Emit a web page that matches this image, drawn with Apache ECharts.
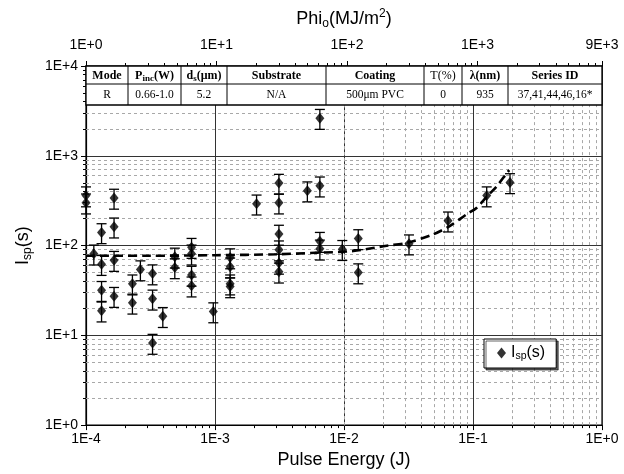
<!DOCTYPE html>
<html><head><meta charset="utf-8">
<script src="https://cdn.jsdelivr.net/npm/echarts@6/dist/echarts.min.js"></script>
<style>html,body{margin:0;padding:0;background:#fff}#c{width:624px;height:474px}</style>
</head><body><div id="c"></div>
<script>
// ---------------- data ----------------
const pulseEnergy = [1.0e-4,1.0e-4,1.15e-4,1.32e-4,1.32e-4,1.32e-4,1.32e-4,1.65e-4,1.65e-4,1.65e-4,1.65e-4,
  2.29e-4,2.29e-4,2.64e-4,3.28e-4,3.28e-4,3.28e-4,3.94e-4,4.88e-4,4.88e-4,6.58e-4,6.58e-4,6.58e-4,6.58e-4,
  9.7e-4,1.31e-3,1.31e-3,1.31e-3,1.31e-3,2.1e-3,3.13e-3,3.13e-3,3.13e-3,3.13e-3,3.13e-3,3.13e-3,
  5.2e-3,6.5e-3,6.5e-3,6.5e-3,6.5e-3,9.7e-3,1.29e-2,1.29e-2,3.19e-2,6.4e-2,0.1277,0.1936];
const isp = [360,300,81,140,62,31.8,18.8,339,162,68.8,27.3,
  37.6,23,54,48.7,25.5,8.2,16.3,74.8,57,96,81,47,35.7,
  18.4,73.5,58,37.6,35,292,497,300,134.6,90,64,51,
  409,2625,464,112,92,91,120,50,105,189,360,505];
const ispErrorFraction = 0.25;   // error bars: +/-25 %
const fitEnergy = [1e-4,3e-4,1e-3,3e-3,6e-3,0.0118,0.0214,0.0306,0.049,0.0664,0.0893,0.107,0.1277,0.1527,0.1825,0.191];
const fitIsp    = [77,77,78,80,83,87,99.5,107,133,166,223,264,349,457,639,693];
const energyTickLabels = ['1E-4','1E-3','1E-2','1E-1','1E+0'];
const ispTickLabels    = ['1E+0','1E+1','1E+2','1E+3','1E+4'];
const phiTicks         = [1,10,100,1000,9000];
const phiTickLabels    = ['1E+0','1E+1','1E+2','1E+3','9E+3'];
const tableHeader = ['Mode','{b|P}{bs|inc}{b|(W)}','{b|d}{bs|s}{b|(μm)}','Substrate','Coating','T(%)','λ(nm)','Series ID'];
const tableRow    = ['R','0.66-1.0','5.2','N/A','500μm PVC','0','935','37,41,44,46,16*'];

// ---------------- helpers ----------------
function minorValues(k0, k1, maxV) {
  const out = [];
  for (let k = k0; k < k1; k++) for (let m = 2; m <= 9; m++) {
    const v = m * Math.pow(10, k);
    if (maxV === undefined || v < maxV * 0.999) out.push(v);
  }
  return out;
}
const minorXv = minorValues(-4, 0), minorYv = minorValues(0, 4), minorPhiV = minorValues(0, 4, 9000);
const minorX = minorXv.map(v => ({xAxis: v}));
const minorY = minorYv.map(v => ({yAxis: v}));

const pts = pulseEnergy.map((e, i) => [e, isp[i]]);
const bars = pulseEnergy.map((e, i) => [e, isp[i] * (1 - ispErrorFraction), isp[i] * (1 + ispErrorFraction)]);
const fit = fitEnergy.map((e, i) => [e, fitIsp[i]]);

const sans = 'Liberation Sans, Arial, Helvetica, sans-serif';
const serif = 'Liberation Serif, Times New Roman, serif';

// table graphics
const colX = [86,128,181,227,326,424,462,508,602];
const rowY = [66,84,105];
const graphic = [];
graphic.push({type:'rect', z:100, shape:{x:colX[0], y:rowY[0], width:colX[8]-colX[0], height:rowY[2]-rowY[0]},
  style:{fill:'#fff', stroke:'#000', lineWidth:1.3}});
graphic.push({type:'line', z:101, shape:{x1:colX[0], y1:rowY[1], x2:colX[8], y2:rowY[1]}, style:{stroke:'#000', lineWidth:1}});
for (let i = 1; i < colX.length - 1; i++) {
  graphic.push({type:'line', z:101, shape:{x1:colX[i], y1:rowY[0], x2:colX[i], y2:rowY[2]}, style:{stroke:'#000', lineWidth:1}});
}
const richT = {
  b:{fontFamily:serif, fontWeight:'bold', fontSize:12, lineHeight:16, verticalAlign:'middle'},
  bs:{fontFamily:serif, fontWeight:'bold', fontSize:9, lineHeight:8, verticalAlign:'bottom'}
};
for (let i = 0; i < tableHeader.length; i++) {
  const cx = (colX[i] + colX[i+1]) / 2;
  graphic.push({type:'text', z:102, style:{text:tableHeader[i], x:cx, y:(rowY[0]+rowY[1])/2 + 0.5,
    textAlign:'center', textVerticalAlign:'middle', align:'center', verticalAlign:'middle',
    fontFamily:serif, fontWeight: i === 5 ? 'normal' : 'bold', fontSize:12, fill:'#000', rich:richT}});
  graphic.push({type:'text', z:102, style:{text:tableRow[i], x:cx, y:(rowY[1]+rowY[2])/2,
    textAlign:'center', textVerticalAlign:'middle', align:'center', verticalAlign:'middle',
    fontFamily:serif, fontSize:11.5, fill:'#000'}});
}

function expLabel(labels, offset) {
  return function (v) {
    const e = Math.round(Math.log10(v));
    return labels[e + offset] !== undefined ? labels[e + offset] : '';
  };
}
function minorAxis(base, vals) {
  return Object.assign({
    axisLine: {show: false}, axisLabel: {show: false}, splitLine: {show: false},
    axisTick: {show: true, inside: false, length: 3, customValues: vals, lineStyle: {color: '#000'}},
    silent: true
  }, base);
}

const option = {
  animation: false,
  backgroundColor: '#fff',
  grid: {left: 86, right: 22, top: 66, bottom: 42, show: true, borderColor: '#000', borderWidth: 1.2},
  xAxis: [{
    type: 'log', logBase: 10, min: 1e-4, max: 1, position: 'bottom',
    axisLine: {show: true, lineStyle: {color: '#000', width: 1.2}},
    axisTick: {show: true, inside: false, length: 5, lineStyle: {color: '#000'}},
    axisLabel: {formatter: expLabel(energyTickLabels, 4), fontFamily: sans, fontSize: 14, color: '#000', margin: 7},
    splitLine: {show: true, lineStyle: {color: '#333', width: 1}},
    name: 'Pulse Energy (J)', nameLocation: 'middle', nameGap: 17,
    nameTextStyle: {fontFamily: sans, fontSize: 18, color: '#000'}
  }, {
    type: 'log', logBase: 10, min: 1, max: 9000, position: 'top',
    axisLine: {show: true, lineStyle: {color: '#000', width: 1.2}},
    axisTick: {show: true, inside: false, length: 5, lineStyle: {color: '#000'}},
    axisLabel: {
      formatter: function (v) {
        for (let i = 0; i < phiTicks.length; i++) if (Math.abs(Math.log10(v) - Math.log10(phiTicks[i])) < 0.01) return phiTickLabels[i];
        return '';
      },
      fontFamily: sans, fontSize: 14, color: '#000', margin: 14, showMaxLabel: true
    },
    splitLine: {show: false},
    name: 'Phi{s|o}(MJ/m{p|2})', nameLocation: 'middle', nameGap: 36,
    nameTextStyle: {fontFamily: sans, fontSize: 18, color: '#000', lineHeight: 22,
      rich: {
        s: {fontFamily: sans, fontSize: 12, lineHeight: 12, verticalAlign: 'bottom', color: '#000'},
        p: {fontFamily: sans, fontSize: 12, lineHeight: 12, verticalAlign: 'top', color: '#000'}
      }}
  },
  minorAxis({type: 'log', logBase: 10, min: 1e-4, max: 1, position: 'bottom'}, minorXv),
  minorAxis({type: 'log', logBase: 10, min: 1, max: 9000, position: 'top'}, minorPhiV)
  ],
  yAxis: [{
    type: 'log', logBase: 10, min: 1, max: 1e4, position: 'left',
    axisLine: {show: true, lineStyle: {color: '#000', width: 1.2}},
    axisTick: {show: true, inside: false, length: 5, lineStyle: {color: '#000'}},
    axisLabel: {formatter: expLabel(ispTickLabels, 0), fontFamily: sans, fontSize: 14, color: '#000', margin: 8},
    splitLine: {show: true, lineStyle: {color: '#333', width: 1}},
    name: 'I{s|sp}(s)', nameLocation: 'middle', nameGap: 52,
    nameTextStyle: {fontFamily: sans, fontSize: 18, color: '#000', lineHeight: 22,
      rich: {s: {fontFamily: sans, fontSize: 12, lineHeight: 12, verticalAlign: 'bottom', color: '#000'}}}
  },
  minorAxis({type: 'log', logBase: 10, min: 1, max: 1e4, position: 'left'}, minorYv)
  ],
  legend: {
    show: true, left: 484, top: 339, orient: 'vertical',
    backgroundColor: '#fff', borderColor: '#000', borderWidth: 1, borderRadius: 0,
    padding: [6, 11, 6, 13],
    itemWidth: 9, itemHeight: 11,
    shadowColor: 'rgba(0,0,0,0.6)', shadowBlur: 0, shadowOffsetX: 2, shadowOffsetY: 2,
    data: [{name: 'Isp', icon: 'diamond'}],
    formatter: function () { return '{a|I}{s|sp}{a|(s)}'; },
    textStyle: {fontFamily: sans, fontSize: 16, color: '#000',
      rich: {a: {fontFamily: sans, fontSize: 16, lineHeight: 18, verticalAlign: 'middle', color: '#000'},
             s: {fontFamily: sans, fontSize: 10.5, lineHeight: 9, verticalAlign: 'bottom', color: '#000'}}},
    z: 50
  },
  graphic: graphic,
  series: [{
    name: 'grid-minor', type: 'line', data: [], xAxisIndex: 0, yAxisIndex: 0, silent: true, z: 1,
    markLine: {silent: true, symbol: ['none', 'none'], label: {show: false}, animation: false,
      lineStyle: {color: '#a8a8a8', width: 1, type: [3, 3]},
      emphasis: {disabled: true},
      data: minorX.concat(minorY)}
  }, {
    name: 'fit', type: 'line', data: fit, xAxisIndex: 0, yAxisIndex: 0, showSymbol: false, smooth: 0.3,
    lineStyle: {color: '#000', width: 2.6, type: [9, 5]}, z: 5, silent: true
  }, {
    name: 'err', type: 'custom', data: bars, xAxisIndex: 0, yAxisIndex: 0, z: 6, silent: true,
    encode: {x: 0, y: [1, 2]},
    renderItem: function (params, api) {
      const lo = api.coord([api.value(0), api.value(1)]);
      const hi = api.coord([api.value(0), api.value(2)]);
      const w = 5, st = {stroke: '#000', lineWidth: 1.3};
      return {type: 'group', children: [
        {type: 'line', shape: {x1: lo[0], y1: lo[1], x2: hi[0], y2: hi[1]}, style: st},
        {type: 'line', shape: {x1: lo[0] - w, y1: lo[1], x2: lo[0] + w, y2: lo[1]}, style: st},
        {type: 'line', shape: {x1: hi[0] - w, y1: hi[1], x2: hi[0] + w, y2: hi[1]}, style: st}
      ]};
    }
  }, {
    name: 'Isp', type: 'scatter', data: pts, xAxisIndex: 0, yAxisIndex: 0,
    symbol: 'diamond', symbolSize: [9, 11], itemStyle: {color: '#000'}, z: 8
  }]
};
const chart = echarts.init(document.getElementById('c'), null, {renderer: 'canvas'});
chart.setOption(option);
</script></body></html>
